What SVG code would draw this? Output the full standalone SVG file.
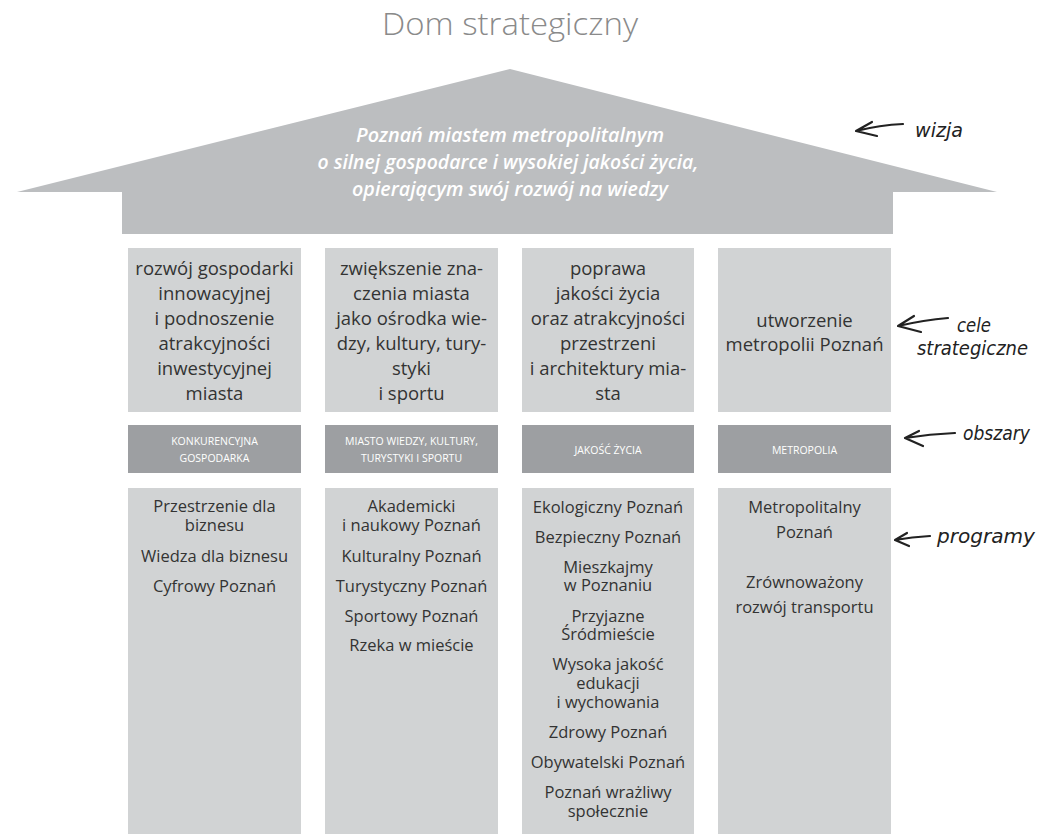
<svg xmlns="http://www.w3.org/2000/svg" width="1037" height="834" viewBox="0 0 1037 834">
<style>
.bg{fill:#ffffff}
.roof{fill:#bcbec0}
.box{fill:#d1d3d4}
.bar{fill:#9d9fa2}
.title{font-family:"Open Sans","Liberation Sans",sans-serif;font-weight:300;font-size:32px;fill:#8a8a8a}
.vis{font-family:"Open Sans","Liberation Sans",sans-serif;font-style:italic;font-weight:600;font-size:19.5px;fill:#ffffff;text-anchor:middle}
.cel{font-family:"Open Sans","Liberation Sans",sans-serif;font-size:18.5px;fill:#333333;text-anchor:middle}
.obs{font-family:"Open Sans","Liberation Sans",sans-serif;font-size:10.5px;fill:#ffffff;text-anchor:middle}
.prg{font-family:"Open Sans","Liberation Sans",sans-serif;font-size:16.5px;fill:#333333;text-anchor:middle}
.ann{font-family:"DejaVu Sans","Liberation Sans",sans-serif;font-style:italic;font-size:19px;fill:#222222}
.arr{fill:none;stroke:#222222;stroke-width:2.2;stroke-linecap:round;stroke-linejoin:round}
</style>
<rect class="bg" x="0" y="0" width="1037" height="834"/>
<text class="title" x="382" y="35" textLength="256" lengthAdjust="spacingAndGlyphs">Dom strategiczny</text>

<g id="roof">
<polygon class="roof" points="17,192 510,69 997,192 893,192 893,234 122,234 122,192"/>
<text class="vis" x="510" y="142" textLength="308" lengthAdjust="spacingAndGlyphs">Poznań miastem metropolitalnym</text>
<text class="vis" x="508" y="169" textLength="381" lengthAdjust="spacingAndGlyphs">o silnej gospodarce i wysokiej jakości życia,</text>
<text class="vis" x="510" y="196" textLength="316" lengthAdjust="spacingAndGlyphs">opierającym swój rozwój na wiedzy</text>
</g>

<g id="cel1">
<rect class="box" x="128" y="248" width="173" height="164"/>
<text class="cel"><tspan x="214.5" y="275">rozwój gospodarki</tspan><tspan x="214.5" y="300">innowacyjnej</tspan><tspan x="214.5" y="325">i podnoszenie</tspan><tspan x="214.5" y="350">atrakcyjności</tspan><tspan x="214.5" y="375">inwestycyjnej</tspan><tspan x="214.5" y="400">miasta</tspan></text>
</g>
<g id="cel2">
<rect class="box" x="325" y="248" width="173" height="164"/>
<text class="cel"><tspan x="411.5" y="275">zwiększenie zna-</tspan><tspan x="411.5" y="300">czenia miasta</tspan><tspan x="411.5" y="325">jako ośrodka wie-</tspan><tspan x="411.5" y="350">dzy, kultury, tury-</tspan><tspan x="411.5" y="375">styki</tspan><tspan x="411.5" y="400">i sportu</tspan></text>
</g>
<g id="cel3">
<rect class="box" x="522" y="248" width="172" height="164"/>
<text class="cel"><tspan x="608" y="275">poprawa</tspan><tspan x="608" y="300">jakości życia</tspan><tspan x="608" y="325">oraz atrakcyjności</tspan><tspan x="608" y="350">przestrzeni</tspan><tspan x="608" y="375">i architektury mia-</tspan><tspan x="608" y="400">sta</tspan></text>
</g>
<g id="cel4">
<rect class="box" x="718" y="248" width="173" height="164"/>
<text class="cel"><tspan x="804.5" y="327">utworzenie</tspan><tspan x="804.5" y="351">metropolii Poznań</tspan></text>
</g>

<g id="obs1">
<rect class="bar" x="128" y="425" width="173" height="48"/>
<text class="obs"><tspan x="214.5" y="445">KONKURENCYJNA</tspan><tspan x="214.5" y="462">GOSPODARKA</tspan></text>
</g>
<g id="obs2">
<rect class="bar" x="325" y="425" width="173" height="48"/>
<text class="obs"><tspan x="411.5" y="445">MIASTO WIEDZY, KULTURY,</tspan><tspan x="411.5" y="462">TURYSTYKI I SPORTU</tspan></text>
</g>
<g id="obs3">
<rect class="bar" x="522" y="425" width="172" height="48"/>
<text class="obs" x="608" y="454">JAKOŚĆ ŻYCIA</text>
</g>
<g id="obs4">
<rect class="bar" x="718" y="425" width="173" height="48"/>
<text class="obs" x="804.5" y="454">METROPOLIA</text>
</g>

<g id="prg1">
<rect class="box" x="128" y="488" width="173" height="346"/>
<text class="prg"><tspan x="214.5" y="512">Przestrzenie dla</tspan><tspan x="214.5" y="531">biznesu</tspan><tspan x="214.5" y="562">Wiedza dla biznesu</tspan><tspan x="214.5" y="592">Cyfrowy Poznań</tspan></text>
</g>
<g id="prg2">
<rect class="box" x="325" y="488" width="173" height="346"/>
<text class="prg"><tspan x="411.5" y="512">Akademicki</tspan><tspan x="411.5" y="531">i naukowy Poznań</tspan><tspan x="411.5" y="562">Kulturalny Poznań</tspan><tspan x="411.5" y="592">Turystyczny Poznań</tspan><tspan x="411.5" y="622">Sportowy Poznań</tspan><tspan x="411.5" y="651">Rzeka w mieście</tspan></text>
</g>
<g id="prg3">
<rect class="box" x="522" y="488" width="172" height="346"/>
<text class="prg"><tspan x="608" y="513">Ekologiczny Poznań</tspan><tspan x="608" y="543">Bezpieczny Poznań</tspan><tspan x="608" y="573">Mieszkajmy</tspan><tspan x="608" y="591">w Poznaniu</tspan><tspan x="608" y="622">Przyjazne</tspan><tspan x="608" y="640">Śródmieście</tspan><tspan x="608" y="670">Wysoka jakość</tspan><tspan x="608" y="689">edukacji</tspan><tspan x="608" y="708">i wychowania</tspan><tspan x="608" y="738">Zdrowy Poznań</tspan><tspan x="608" y="768">Obywatelski Poznań</tspan><tspan x="608" y="798">Poznań wrażliwy</tspan><tspan x="608" y="817">społecznie</tspan></text>
</g>
<g id="prg4">
<rect class="box" x="718" y="488" width="173" height="346"/>
<text class="prg"><tspan x="804.5" y="513">Metropolitalny</tspan><tspan x="804.5" y="538">Poznań</tspan><tspan x="804.5" y="588">Zrównoważony</tspan><tspan x="804.5" y="613">rozwój transportu</tspan></text>
</g>

<g id="connectors">
<path class="arr" d="M903,124 Q880,125 856,131 M872,122 L856,131 L877,136"/>
<path class="arr" d="M948,318 Q924,320 898,326 M914,316 L898,326 L921,332"/>
<path class="arr" d="M955,433 Q930,434 905,438 M919,431 L905,438 L923,446"/>
<path class="arr" d="M930,536 Q912,537 895,540 M907,533 L895,540 L909,546"/>
</g>
<g id="labels">
<text class="ann" x="915" y="137" textLength="48" lengthAdjust="spacingAndGlyphs">wizja</text>
<text class="ann" x="957" y="332" textLength="34" lengthAdjust="spacingAndGlyphs">cele</text>
<text class="ann" x="917" y="355" textLength="111" lengthAdjust="spacingAndGlyphs">strategiczne</text>
<text class="ann" x="963" y="440" textLength="67" lengthAdjust="spacingAndGlyphs">obszary</text>
<text class="ann" x="937" y="543" textLength="98" lengthAdjust="spacingAndGlyphs">programy</text>
</g>
</svg>
